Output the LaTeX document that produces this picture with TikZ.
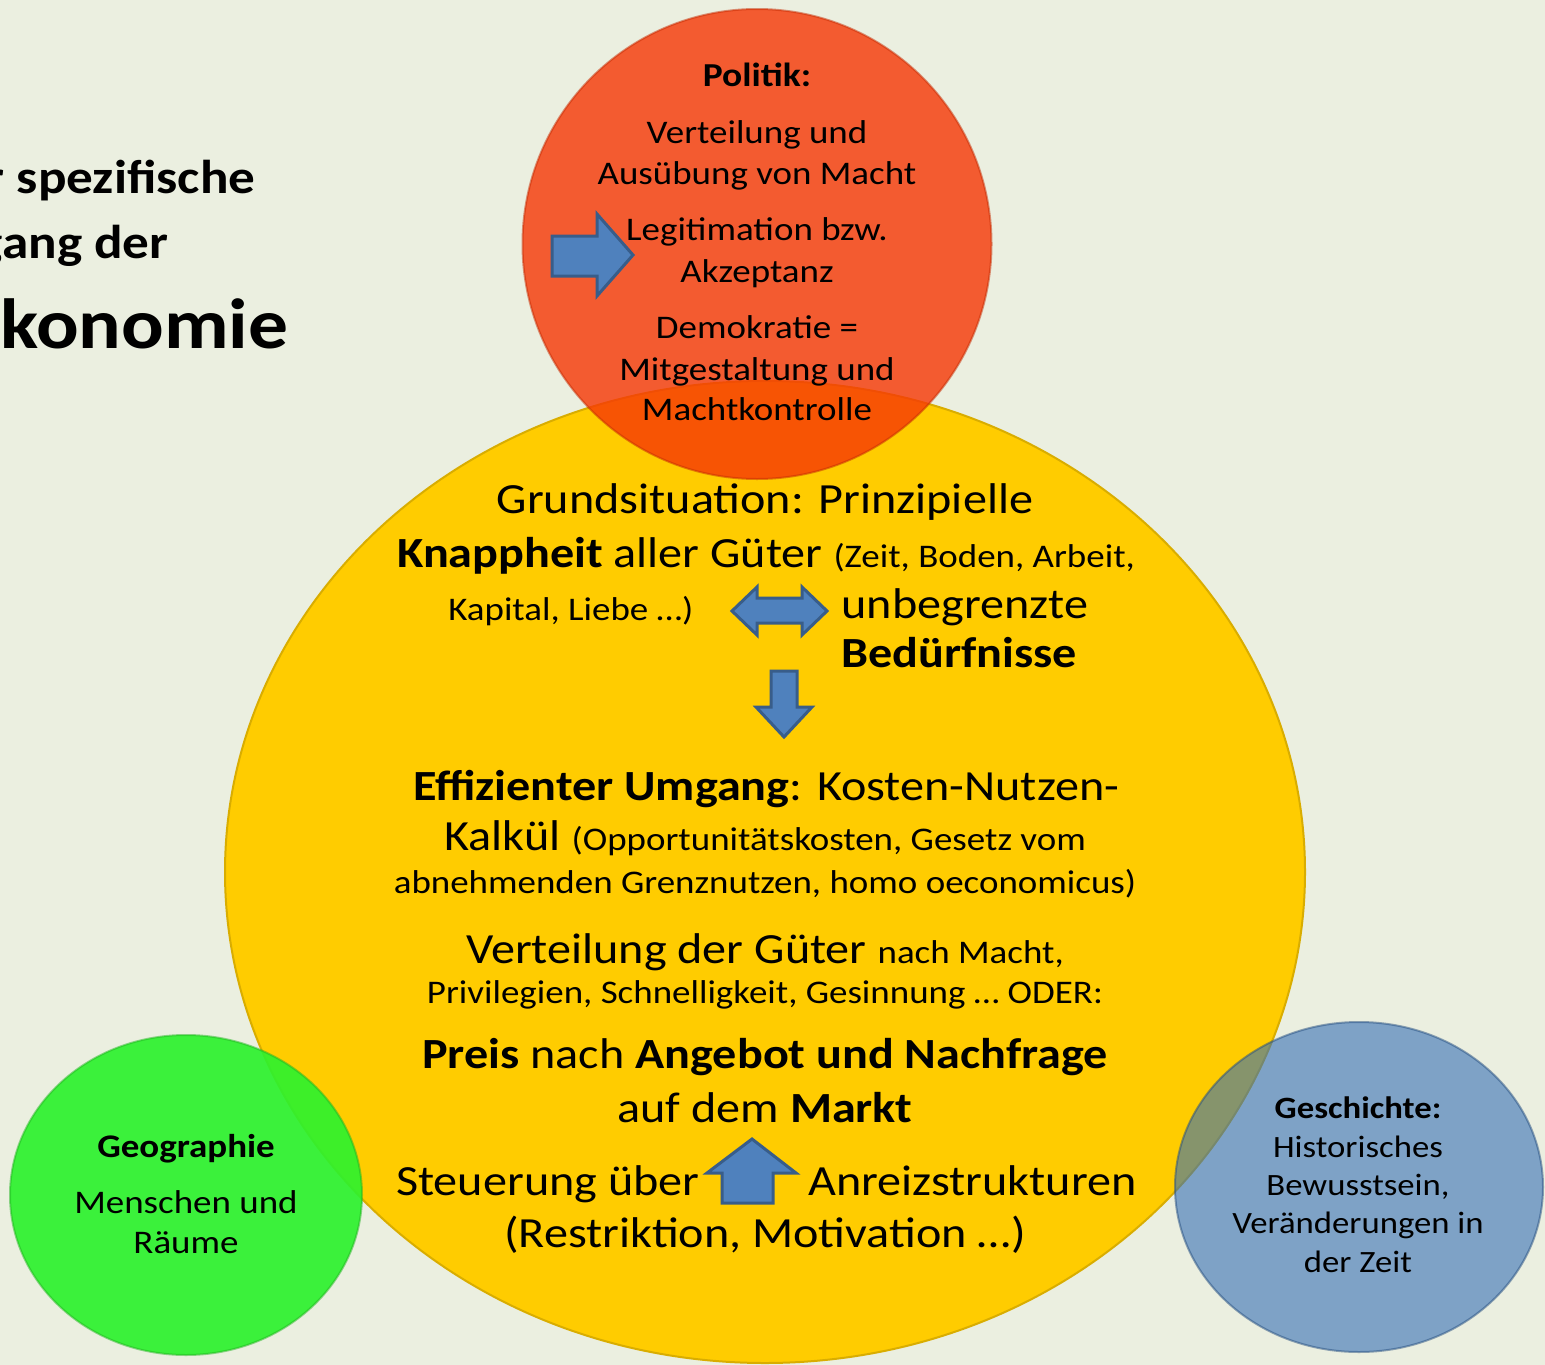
\documentclass[tikz,border=0pt]{standalone}
\usepackage{fontspec}
\setmainfont{Carlito}[FakeStretch=1.12]
\usetikzlibrary{shapes.geometric}
\definecolor{bgpaper}{RGB}{235,239,224}
\definecolor{sunyellow}{RGB}{255,204,0}
\definecolor{polred}{RGB}{246,55,5}
\definecolor{geogreen}{RGB}{45,242,45}
\definecolor{histblue}{RGB}{54,112,181}
\definecolor{arrowfill}{RGB}{79,129,189}
\definecolor{arrowline}{RGB}{56,93,138}
\newcommand\setfs[1]{\fontsize{#1}{#1}\selectfont}
\begin{document}
\begin{tikzpicture}[x=1pt,y=-1pt,line join=round,
	bubble/.style={ellipse,inner sep=0pt,line width=2pt},
	blockarrow/.style={fill=arrowfill,draw=arrowline,line width=3pt,line join=miter},
	big/.style={anchor=base,font=\setfs{43}},
	small/.style={anchor=base,font=\setfs{33}},
	side/.style={anchor=base,font=\setfs{33}}]
	\fill[bgpaper] (0,0) rectangle (1545,1365);
	\clip (0,0) rectangle (1545,1365);
	\node[anchor=base east,font=\bfseries\setfs{47.5}] (titleA) at (259,193) {r spezifische};
	\node[anchor=base east,font=\bfseries\setfs{47.5}] (titleB) at (172,258) {gang der};
	\node[anchor=base east,font=\bfseries\setfs{71}] (titleC) at (292,348) {konomie};
	\node[bubble,fill=sunyellow,draw=sunyellow!85!black,minimum width=1080pt,minimum height=982pt] (markt) at (765,872) {};
	\node[bubble,fill=polred,fill opacity=.8,draw=polred!80!black,draw opacity=.5,minimum width=469pt,minimum height=470pt] (politik) at (757,244) {};
	\node[bubble,fill=geogreen,fill opacity=.92,draw=geogreen!75!black,draw opacity=.5,minimum width=352pt,minimum height=320pt] (geo) at (186,1195) {};
	\node[bubble,fill=histblue,fill opacity=.6,draw=histblue!70!black,draw opacity=.5,minimum width=368pt,minimum height=330pt] (hist) at (1359,1187) {};
	% Politik
	\node[side,font=\bfseries\setfs{33.5}] (polA) at (757,86) {Politik:};
	\node[side] (polB) at (757,143) {Verteilung und};
	\node[side] (polC) at (757,184) {Ausübung von Macht};
	\node[side] (polD) at (757,240) {Legitimation bzw.};
	\node[side] (polE) at (757,282) {Akzeptanz};
	\node[side] (polF) at (757,338) {Demokratie =};
	\node[side] (polG) at (757,380) {Mitgestaltung und};
	\node[side] (polH) at (757,420) {Machtkontrolle};
	\draw[blockarrow] (552,236)--(597,236)--(597,214)--(633,255)--(597,296)--(597,276)--(552,276)--cycle;
	% Oekonomie
	\node[big] (grundA) at (765,513) {Grundsituation: Prinzipielle};
	\node[big] (grundB) at (766,567) {\textbf{Knappheit} aller Güter {\setfs{33}(Zeit, Boden, Arbeit,}};
	\node[small,anchor=base east] (grundC) at (697,620) {Kapital, Liebe …)};
	\node[big,anchor=base west] (beduerfA) at (838,618) {unbegrenzte};
	\node[big,anchor=base west,font=\bfseries\setfs{43}] (beduerfB) at (838,667) {Bedürfnisse};
	\draw[blockarrow] (732,611)--(757,587)--(757,598)--(802,598)--(802,587)--(827,611)--(802,635)--(802,623)--(757,623)--(757,635)--cycle;
	\draw[blockarrow] (771,671)--(797,671)--(797,707)--(812,707)--(784,737)--(756,707)--(771,707)--cycle;
	\node[big] (effA) at (766,800) {\textbf{Effizienter Umgang}: Kosten-Nutzen-};
	\node[big] (effB) at (765,850) {Kalkül {\setfs{33}(Opportunitätskosten, Gesetz vom}};
	\node[small] (effC) at (765,893) {abnehmenden Grenznutzen, homo oeconomicus)};
	\node[big] (vertA) at (765,963) {Verteilung der Güter {\setfs{33}nach Macht,}};
	\node[small] (vertB) at (765,1003) {Privilegien, Schnelligkeit, Gesinnung … ODER:};
	\node[big] (preisA) at (765,1068) {\textbf{Preis} nach \textbf{Angebot und Nachfrage}};
	\node[big] (preisB) at (765,1122) {auf dem \textbf{Markt}};
	\node[big,anchor=base east] (steuA) at (703,1195) {Steuerung über};
	\node[big,anchor=base west] (steuB) at (805,1195) {Anreizstrukturen};
	\node[big] (steuC) at (765,1247) {(Restriktion, Motivation …)};
	\draw[blockarrow] (752,1139)--(796,1173)--(773,1173)--(773,1203)--(722,1203)--(722,1173)--(707,1173)--cycle;
	% Geographie, Geschichte
	\node[side,font=\bfseries\setfs{33}] (geoA) at (186,1157) {Geographie};
	\node[side] (geoB) at (186,1213) {Menschen und};
	\node[side] (geoC) at (186,1253) {Räume};
	\node[side,font=\bfseries\setfs{31}] (histA) at (1358,1118) {Geschichte:};
	\node[side,font=\setfs{31}] (histB) at (1358,1157) {Historisches};
	\node[side,font=\setfs{31}] (histC) at (1358,1195) {Bewusstsein,};
	\node[side,font=\setfs{31}] (histD) at (1358,1233) {Veränderungen in};
	\node[side,font=\setfs{31}] (histE) at (1358,1272) {der Zeit};
\end{tikzpicture}
\end{document}
